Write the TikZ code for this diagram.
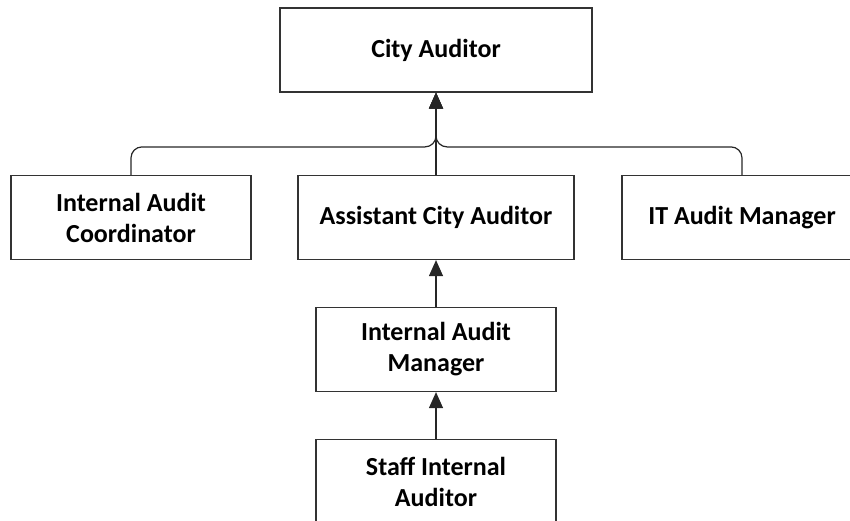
\documentclass[tikz,border=0pt]{standalone}
\usepackage{fontspec}
\setmainfont{Carlito}
\usetikzlibrary{arrows.meta,positioning}

\begin{document}
\begin{tikzpicture}[>={Triangle[length=16pt,width=14pt]},on grid,node distance=132pt,
  post/.style={draw=black!80,line width=1.2pt,fill=white,minimum height=84pt,
    align=center,font=\bfseries\fontsize{26}{31}\selectfont},
  wide/.style={post,minimum width=240pt}]
  \useasboundingbox (0,0) rectangle (850pt,-520pt);

  \node[post,minimum width=312pt] (city)  at (436pt,-50pt) {City Auditor};
  \node[post,minimum width=276pt] (asst)  [below=167.5pt of city] {Assistant City Auditor};
  \node[wide]                     (coord) [left=305pt of asst]  {Internal Audit\\Coordinator};
  \node[wide]                     (itmgr) [right=306pt of asst] {IT Audit Manager};
  \node[wide]                     (iamgr) [below=of asst]       {Internal Audit\\Manager};
  \node[wide]                     (staff) [below=of iamgr]      {Staff Internal\\Auditor};
  \coordinate (hub) at ([yshift=28pt]asst.north);

\tikzset{link/.style={->,draw=black!85,line width=1.2pt}}
\draw[link,rounded corners=11pt] (coord.north) |- (hub) -- (city.south);
\draw[link,rounded corners=11pt] (itmgr.north) |- (hub) -- (city.south);
\path (asst)  edge [link] (city)
      (iamgr) edge [link] (asst)
      (staff) edge [link] (iamgr);
\end{tikzpicture}
\end{document}
